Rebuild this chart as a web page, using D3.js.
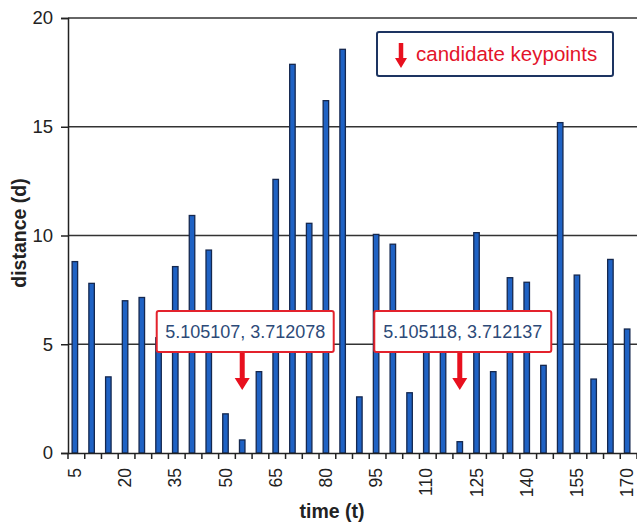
<!DOCTYPE html>
<html>
<head>
<meta charset="utf-8">
<script src="https://cdn.jsdelivr.net/npm/d3@7"></script>
<style>
  body { margin: 0; background: #fff; }
  svg { font-family: Arial, "Liberation Sans", sans-serif; }
</style>
</head>
<body>
<svg id="chart" width="637" height="525"></svg>
<script>
// time steps (t) and distances (d)
var times = [5, 10, 15, 20, 25, 30, 35, 40, 45, 50, 55, 60, 65, 70, 75, 80, 85,
  90, 95, 100, 105, 110, 115, 120, 125, 130, 135, 140, 145, 150, 155, 160, 165, 170];
var distances = [8.8, 7.8, 3.5, 7.0, 7.15, 5.3, 8.57, 10.92, 9.33, 1.8, 0.6, 3.74, 12.58, 17.87, 10.56, 16.2, 18.56,
  2.58, 10.05, 9.6, 2.77, 5.0, 5.6, 0.52, 10.13, 3.74, 8.06, 7.85, 4.03, 15.19, 8.18, 3.4, 8.9, 5.7];
var xTickLabels = [5, 20, 35, 50, 65, 80, 95, 110, 125, 140, 155, 170];
var yTicks = [0, 5, 10, 15, 20];

// candidate keypoints (time, label)
var keypointTimes = [55, 120];
var keypointLabels = ['5.105107, 3.712078', '5.105118, 3.712137'];
var legendLabel = 'candidate keypoints';

var svg = d3.select('#chart');
var plotLeft = 68, plotRight = 637, plotTop = 18, plotBottom = 453;

var xScale = d3.scaleBand().domain(times).range([plotLeft, plotRight]).padding(0);
var yScale = d3.scaleLinear().domain([0, 20]).range([plotBottom, plotTop]);
var bw = xScale.bandwidth();
var barW = 5.5;

// grid lines
svg.append('g')
  .selectAll('line')
  .data(yTicks.filter(d => d > 0))
  .enter()
  .append('line')
  .attr('x1', plotLeft)
  .attr('x2', plotRight)
  .attr('y1', d => yScale(d))
  .attr('y2', d => yScale(d))
  .attr('stroke', '#333')
  .attr('stroke-width', 1.5);

// y axis
var yAxis = svg.append('g')
  .attr('transform', `translate(${plotLeft}, 0)`)
  .call(d3.axisLeft(yScale).tickValues(yTicks).tickSize(7).tickPadding(8));
yAxis.select('.domain').attr('stroke', '#222').attr('stroke-width', 1.5);
yAxis.selectAll('.tick line').attr('stroke', '#222').attr('stroke-width', 1.5);
yAxis.selectAll('.tick text')
  .attr('font-size', 18.5)
  .attr('fill', '#222')
  .style('font-family', 'Arial, "Liberation Sans", sans-serif');

// bars
svg.append('g')
  .selectAll('rect')
  .data(times)
  .enter()
  .append('rect')
  .attr('x', (d) => xScale(d) + bw / 2 - barW / 2 - 1.5)
  .attr('y', (d, i) => yScale(distances[i]))
  .attr('width', barW)
  .attr('height', (d, i) => plotBottom - yScale(distances[i]))
  .attr('fill', '#1f62c4')
  .attr('stroke', '#15284f')
  .attr('stroke-width', 1.3);

// x axis
var xAxis = svg.append('g')
  .attr('transform', `translate(0, ${plotBottom})`)
  .call(d3.axisBottom(xScale).tickValues(xTickLabels).tickSize(0).tickPadding(0));
xAxis.select('.domain').attr('stroke', '#222').attr('stroke-width', 1.5);
xAxis.selectAll('.tick text')
  .attr('font-size', 17.5)
  .attr('fill', '#222')
  .attr('transform', 'translate(-1.5, 15) rotate(-90)')
  .attr('text-anchor', 'end')
  .attr('dy', '0.35em')
  .attr('dx', 0)
  .attr('y', 0)
  .style('font-family', 'Arial, "Liberation Sans", sans-serif');

// tick marks at band edges
svg.append('g')
  .selectAll('line')
  .data(times.map(d => xScale(d)).concat([plotRight]))
  .enter()
  .append('line')
  .attr('x1', d => d)
  .attr('x2', d => d)
  .attr('y1', plotBottom)
  .attr('y2', plotBottom + 6)
  .attr('stroke', '#222')
  .attr('stroke-width', 1.5);

// axis titles
svg.append('text')
  .attr('x', 332)
  .attr('y', 518)
  .attr('text-anchor', 'middle')
  .attr('font-size', 19.5)
  .attr('font-weight', 'bold')
  .attr('fill', '#222')
  .text('time (t)');

svg.append('text')
  .attr('transform', 'translate(26, 233) rotate(-90)')
  .attr('text-anchor', 'middle')
  .attr('font-size', 19.5)
  .attr('font-weight', 'bold')
  .attr('fill', '#222')
  .text('distance (d)');

function downArrow(g, cx, y0, y1, shaftW, headW, headH) {
  g.append('path')
    .attr('d', `M${cx - shaftW / 2},${y0} L${cx + shaftW / 2},${y0} L${cx + shaftW / 2},${y1 - headH}
      L${cx + headW / 2},${y1 - headH} L${cx},${y1} L${cx - headW / 2},${y1 - headH}
      L${cx - shaftW / 2},${y1 - headH} Z`)
    .attr('fill', '#e8101e');
}

// keypoint callouts
keypointTimes.forEach((t, i) => {
  var cx = xScale(t) + bw / 2 - 1.5;
  var g = svg.append('g');
  var boxW = 177, boxH = 41, boxY = 311;
  var bx = cx - boxW / 2 + 3;
  g.append('rect')
    .attr('x', bx)
    .attr('y', boxY)
    .attr('width', boxW)
    .attr('height', boxH)
    .attr('rx', 2)
    .attr('fill', '#fff')
    .attr('stroke', '#e3222c')
    .attr('stroke-width', 2);
  g.append('text')
    .attr('x', bx + boxW / 2)
    .attr('y', boxY + 27)
    .attr('text-anchor', 'middle')
    .attr('font-size', 18)
    .attr('fill', '#2d4a78')
    .text(keypointLabels[i]);
  downArrow(g, cx, boxY + boxH + 1, 390, 5, 15, 12);
});

// legend
var lg = svg.append('g');
lg.append('rect')
  .attr('x', 377)
  .attr('y', 32)
  .attr('width', 236)
  .attr('height', 44)
  .attr('rx', 2)
  .attr('fill', '#fff')
  .attr('stroke', '#1d3461')
  .attr('stroke-width', 2);
downArrow(lg, 401, 43, 68, 4.5, 12, 10);
lg.append('text')
  .attr('x', 416)
  .attr('y', 61)
  .attr('font-size', 20.5)
  .attr('fill', '#e3142a')
  .text(legendLabel);
</script>
</body>
</html>
